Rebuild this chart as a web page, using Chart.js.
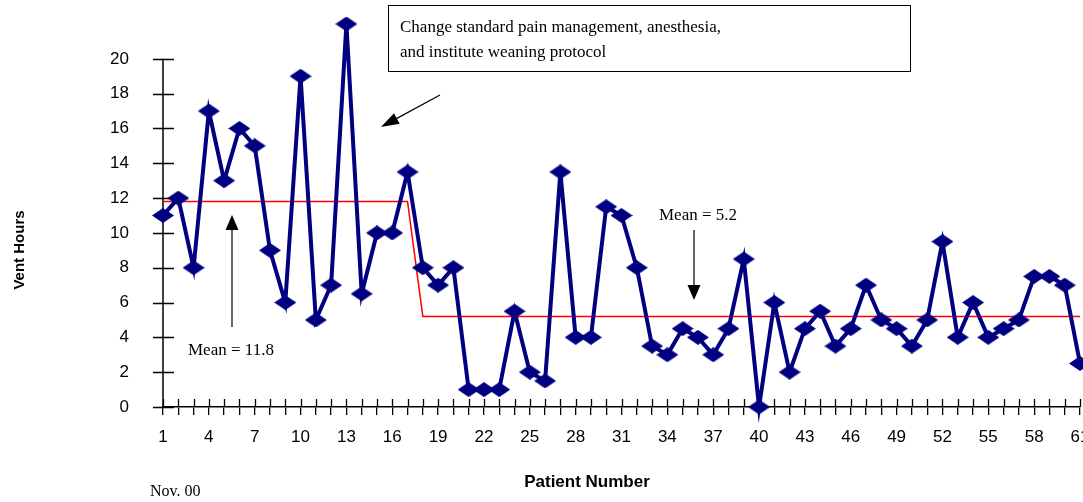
<!DOCTYPE html>
<html>
<head>
<meta charset="utf-8">
<script src="https://cdn.jsdelivr.net/npm/chart.js@4/dist/chart.umd.min.js"></script>
<style>
  html, body { margin: 0; padding: 0; background: #fff; }
  #wrap { width: 1083px; height: 502px; position: relative; }
</style>
</head>
<body>
<div id="wrap"><canvas id="myChart" width="1083" height="502"></canvas></div>
<script>
// patient numbers (x categories)
var patients = ['1','2','3','4','5','6','7','8','9','10','11','12','13','14','15','16','17','18','19','20',
  '21','22','23','24','25','26','27','28','29','30','31','32','33','34','35','36','37','38','39','40',
  '41','42','43','44','45','46','47','48','49','50','51','52','53','54','55','56','57','58','59','60','61'];

// vent hours per patient
var ventHours = [11, 12, 8, 17, 13, 16, 15, 9, 6, 19, 5, 7, 22, 6.5, 10, 10, 13.5, 8, 7, 8,
  1, 1, 1, 5.5, 2, 1.5, 13.5, 4, 4, 11.5, 11, 8, 3.5, 3, 4.5, 4, 3, 4.5, 8.5, 0,
  6, 2, 4.5, 5.5, 3.5, 4.5, 7, 5, 4.5, 3.5, 5, 9.5, 4, 6, 4, 4.5, 5, 7.5, 7.5, 7, 2.5];

// mean before / after the protocol change
var meanLine = [11.8, 11.8, 11.8, 11.8, 11.8, 11.8, 11.8, 11.8, 11.8, 11.8, 11.8, 11.8, 11.8, 11.8, 11.8, 11.8, 11.8,
  5.2, 5.2, 5.2, 5.2, 5.2, 5.2, 5.2, 5.2, 5.2, 5.2, 5.2, 5.2, 5.2, 5.2, 5.2, 5.2, 5.2, 5.2, 5.2, 5.2, 5.2, 5.2, 5.2,
  5.2, 5.2, 5.2, 5.2, 5.2, 5.2, 5.2, 5.2, 5.2, 5.2, 5.2, 5.2, 5.2, 5.2, 5.2, 5.2, 5.2, 5.2, 5.2, 5.2, 5.2];

var yTicks = [0, 2, 4, 6, 8, 10, 12, 14, 16, 18, 20];

var NAVY = '#000080';
var SANS = '"Liberation Sans", Arial, sans-serif';
var SERIF = '"Liberation Serif", "Times New Roman", serif';

// flat diamond marker
function makeDiamond(w, h) {
    var c = document.createElement('canvas');
    c.width = w; c.height = h;
    var g = c.getContext('2d');
    g.fillStyle = NAVY;
    g.beginPath();
    g.moveTo(w / 2, 0);
    g.lineTo(w, h / 2);
    g.lineTo(w / 2, h);
    g.lineTo(0, h / 2);
    g.closePath();
    g.fill();
    return c;
}
var diamond = makeDiamond(22, 15);

function arrow(ctx, x1, y1, x2, y2, headLen, headW) {
    var ang = Math.atan2(y2 - y1, x2 - x1);
    ctx.beginPath();
    ctx.moveTo(x1, y1);
    ctx.lineTo(x2 - Math.cos(ang) * headLen * 0.8, y2 - Math.sin(ang) * headLen * 0.8);
    ctx.stroke();
    ctx.beginPath();
    ctx.moveTo(x2, y2);
    ctx.lineTo(x2 - Math.cos(ang) * headLen + Math.sin(ang) * headW / 2,
               y2 - Math.sin(ang) * headLen - Math.cos(ang) * headW / 2);
    ctx.lineTo(x2 - Math.cos(ang) * headLen - Math.sin(ang) * headW / 2,
               y2 - Math.sin(ang) * headLen + Math.cos(ang) * headW / 2);
    ctx.closePath();
    ctx.fill();
}

// y axis line (only up to 20), inner halves of the tick marks
var axisBits = {
    id: 'axisBits',
    beforeDatasetsDraw: function (chart) {
        var ctx = chart.ctx;
        var xs = chart.scales.x, ys = chart.scales.y;
        var area = chart.chartArea;
        ctx.save();
        ctx.strokeStyle = '#000';
        ctx.lineWidth = 1.5;
        ctx.beginPath();
        ctx.moveTo(area.left, ys.getPixelForValue(0));
        ctx.lineTo(area.left, ys.getPixelForValue(yTicks[yTicks.length - 1]));
        ctx.stroke();
        ctx.lineWidth = 1.3;
        ctx.beginPath();
        for (var i = 0; i < patients.length; i++) {
            var px = Math.round(xs.getPixelForValue(i)) + 0.5;
            ctx.moveTo(px, area.bottom);
            ctx.lineTo(px, area.bottom - 8);
        }
        for (var j = 0; j < yTicks.length; j++) {
            var py = Math.round(ys.getPixelForValue(yTicks[j])) + 0.5;
            ctx.moveTo(area.left - 10, py);
            ctx.lineTo(area.left + 11, py);
        }
        ctx.stroke();
        ctx.restore();
    }
};

// notes, arrows, titles
var extras = {
    id: 'extras',
    afterDraw: function (chart) {
        var ctx = chart.ctx;
        ctx.save();
        ctx.fillStyle = '#000';
        ctx.strokeStyle = '#000';
        ctx.font = 'bold 17px ' + SANS;
        ctx.textAlign = 'center';
        ctx.textBaseline = 'middle';
        ctx.fillText('Patient Number', 587, 482);
        ctx.save();
        ctx.translate(20, 250);
        ctx.rotate(-Math.PI / 2);
        ctx.font = 'bold 15px ' + SANS;
        ctx.fillText('Vent Hours', 0, 0);
        ctx.restore();

        // note box
        ctx.lineWidth = 1;
        ctx.strokeRect(388.5, 5.5, 522, 66);
        ctx.font = '17px ' + SERIF;
        ctx.textAlign = 'left';
        ctx.fillText('Change standard pain management, anesthesia,', 400, 28);
        ctx.fillText('and institute weaning protocol', 400, 53);

        ctx.fillText('Mean = 11.8', 188, 351);
        ctx.fillText('Mean = 5.2', 659, 216);
        ctx.font = '16px ' + SERIF;
        ctx.fillText('Nov. 00', 150, 492);

        // arrows
        ctx.lineWidth = 1.2;
        arrow(ctx, 440, 95, 381, 127, 18, 12);
        arrow(ctx, 232, 327, 232, 215, 15, 13);
        arrow(ctx, 694, 230, 694, 300, 15, 13);
        ctx.restore();
    }
};

var ctx = document.getElementById('myChart').getContext('2d');
var myChart = new Chart(ctx, {
    type: 'line',
    data: {
        labels: patients,
        datasets: [
            {
                label: 'Mean',
                data: meanLine,
                borderColor: '#ff0000',
                borderWidth: 1.5,
                pointRadius: 0,
                tension: 0,
                order: 2
            },
            {
                label: 'Vent Hours',
                data: ventHours,
                borderColor: NAVY,
                borderWidth: 4,
                pointStyle: diamond,
                pointRadius: 8,
                pointBackgroundColor: NAVY,
                pointBorderColor: NAVY,
                tension: 0,
                clip: false,
                order: 1
            }
        ]
    },
    options: {
        responsive: false,
        animation: false,
        events: [],
        layout: { autoPadding: false, padding: { left: 0, right: 3, top: 24, bottom: 0 } },
        plugins: {
            legend: { display: false },
            tooltip: { enabled: false }
        },
        scales: {
            x: {
                type: 'category',
                offset: false,
                grid: { drawOnChartArea: false, tickLength: 8, color: '#000', lineWidth: 1.3 },
                border: { color: '#000', width: 1.5 },
                ticks: {
                    autoSkip: false,
                    maxRotation: 0,
                    minRotation: 0,
                    padding: 12,
                    color: '#000',
                    font: { family: SANS, size: 17 },
                    callback: function (val, idx) { return idx % 3 === 0 ? patients[idx] : ''; }
                },
                afterFit: function (scale) {
                    scale.height = 95;
                    scale.paddingLeft = 0;
                    scale.paddingRight = 0;
                }
            },
            y: {
                min: 0,
                max: 22,
                grid: { display: false },
                border: { display: false },
                afterBuildTicks: function (scale) {
                    scale.ticks = yTicks.map(function (v) { return { value: v }; });
                },
                ticks: {
                    padding: 26,
                    color: '#000',
                    font: { family: SANS, size: 17 }
                },
                afterFit: function (scale) {
                    scale.width = 163;
                    scale.paddingTop = 0;
                    scale.paddingBottom = 0;
                }
            }
        }
    },
    plugins: [axisBits, extras]
});
</script>
</body>
</html>
